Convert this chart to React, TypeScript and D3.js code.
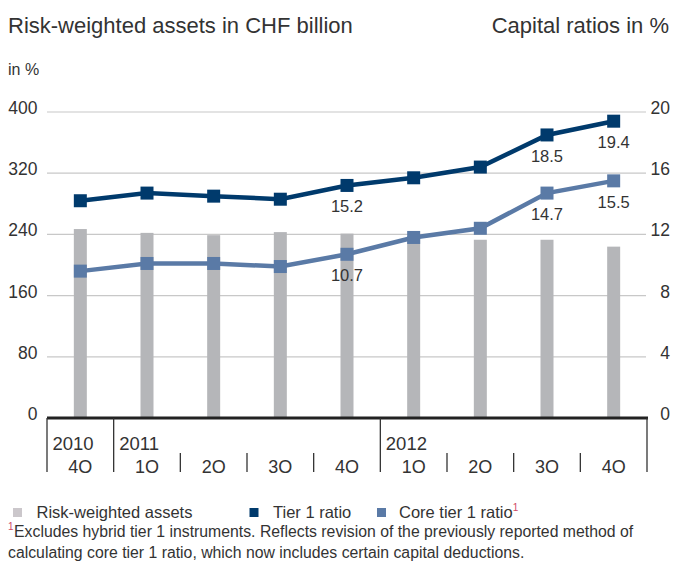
import React from 'react';
import * as d3 from 'd3';

// quarters shown on the x axis
const periods = ['4Q10', '1Q11', '2Q11', '3Q11', '4Q11', '1Q12', '2Q12', '3Q12', '4Q12'];
const quarterLabels = ['4Q', '1Q', '2Q', '3Q', '4Q', '1Q', '2Q', '3Q', '4Q'];
const years = [
  { label: '2010', first: '4Q10' },
  { label: '2011', first: '1Q11' },
  { label: '2012', first: '1Q12' },
];

// values
const rwa = [247, 242, 239, 243, 241, 238, 233, 233, 224];
const tier1 = [14.2, 14.7, 14.5, 14.3, 15.2, 15.7, 16.4, 18.5, 19.4];
const coreTier1 = [9.6, 10.1, 10.1, 9.9, 10.7, 11.8, 12.4, 14.7, 15.5];
const labelled = ['4Q11', '3Q12', '4Q12'];

const leftTicks = [0, 80, 160, 240, 320, 400];
const rightTicks = [0, 4, 8, 12, 16, 20];

const FONT = '"Liberation Sans", Arial, sans-serif';
const TEXT = '#333';
const NAVY = '#003a6c';
const STEEL = '#5a7aa6';
const BAR = '#b5b6b9';
const GRID = '#c8c8c8';
const RED = '#d04a66';

export default function App() {
  const width = 676;
  const height = 564;

  const x = d3.scaleBand<string>().domain(periods).range([47, 647]);
  const yL = d3.scaleLinear().domain([0, 400]).range([418, 112]);
  const yR = d3.scaleLinear().domain([0, 20]).range([418, 112]);
  const cx = (p: string) => (x(p) ?? 0) + x.bandwidth() / 2;

  const line = d3
    .line<number>()
    .x((_, i) => cx(periods[i]))
    .y((d) => yR(d));

  const barW = 13;
  const mk = 13;
  const axisBottom = 472;

  return (
    <svg
      width={width}
      height={height}
      style={{ position: 'absolute', left: 0, top: 0, fontFamily: FONT }}
    >
      <defs>
        <clipPath id="qclip">
          <rect x={0} y={418} width={width} height={axisBottom + 1 - 418} />
        </clipPath>
      </defs>

      {/* headings */}
      <text x={8} y={33} fontSize={22} fill={TEXT}>
        Risk-weighted assets in CHF billion
      </text>
      <text x={669} y={33} fontSize={22} fill={TEXT} textAnchor="end">
        Capital ratios in %
      </text>
      <text x={8} y={75} fontSize={16} fill={TEXT}>
        in %
      </text>

      {/* grid */}
      {leftTicks.filter((t) => t > 0).map((t) => (
        <line key={t} x1={47} x2={646} y1={yL(t)} y2={yL(t)} stroke={GRID} strokeWidth={1.2} />
      ))}
      {leftTicks.map((t) => (
        <text key={'l' + t} x={37.5} y={yL(t) + 2} fontSize={17.5} fill={TEXT} textAnchor="end">
          {t}
        </text>
      ))}
      {rightTicks.map((t) => (
        <text key={'r' + t} x={670} y={yR(t) + 2} fontSize={17.5} fill={TEXT} textAnchor="end">
          {t}
        </text>
      ))}

      {/* bars */}
      {rwa.map((v, i) => (
        <rect
          key={periods[i]}
          x={cx(periods[i]) - barW / 2}
          y={yL(v)}
          width={barW}
          height={yL(0) - yL(v)}
          fill={BAR}
        />
      ))}

      {/* lines */}
      <path d={line(coreTier1) ?? ''} fill="none" stroke={STEEL} strokeWidth={4.5} />
      {coreTier1.map((v, i) => (
        <rect key={'c' + i} x={cx(periods[i]) - mk / 2} y={yR(v) - mk / 2} width={mk} height={mk} fill={STEEL} />
      ))}
      <path d={line(tier1) ?? ''} fill="none" stroke={NAVY} strokeWidth={4.5} />
      {tier1.map((v, i) => (
        <rect key={'t' + i} x={cx(periods[i]) - mk / 2} y={yR(v) - mk / 2} width={mk} height={mk} fill={NAVY} />
      ))}

      {/* value labels */}
      {periods.map((p, i) =>
        labelled.includes(p) ? (
          <g key={'v' + p} fontSize={16.5} fill={TEXT} textAnchor="middle">
            <text x={cx(p)} y={yR(tier1[i]) + 27}>{tier1[i].toFixed(1)}</text>
            <text x={cx(p)} y={yR(coreTier1[i]) + 27}>{coreTier1[i].toFixed(1)}</text>
          </g>
        ) : null
      )}

      {/* category axis */}
      <line x1={47} x2={648} y1={418} y2={418} stroke="#222" strokeWidth={3} />
      {years.map((yr) => (
        <g key={yr.label}>
          <line x1={x(yr.first)} x2={x(yr.first)} y1={418} y2={axisBottom} stroke="#333" strokeWidth={1.3} />
          <text x={(x(yr.first) ?? 0) + 5.5} y={450} fontSize={18.5} fill={TEXT}>
            {yr.label}
          </text>
        </g>
      ))}
      <line x1={647} x2={647} y1={418} y2={axisBottom} stroke="#333" strokeWidth={1.3} />
      {periods.map((p) =>
        years.some((yr) => yr.first === p) ? null : (
          <line key={'s' + p} x1={x(p)} x2={x(p)} y1={453} y2={axisBottom} stroke="#333" strokeWidth={1.3} />
        )
      )}
      <g clipPath="url(#qclip)">
        {periods.map((p, i) => (
          <text key={'q' + p} x={cx(p)} y={473} fontSize={18} fill={TEXT} textAnchor="middle">
            {quarterLabels[i]}
          </text>
        ))}
      </g>

      {/* legend */}
      <rect x={13} y={508} width={9} height={9} fill="#cbc7cb" />
      <text x={36.5} y={518} fontSize={16.5} fill={TEXT}>Risk-weighted assets</text>
      <rect x={249.5} y={508} width={9} height={9} fill={NAVY} />
      <text x={273} y={518} fontSize={16.5} fill={TEXT}>Tier 1 ratio</text>
      <rect x={377} y={508} width={9} height={9} fill={STEEL} />
      <text x={399} y={518} fontSize={16.5} fill={TEXT}>
        Core tier 1 ratio
        <tspan fill={RED} fontSize={10} dy={-7}>1</tspan>
      </text>

      {/* footnote */}
      <text x={8} y={536.5} fontSize={15.8} fill={TEXT}>
        <tspan fill={RED} fontSize={10} dy={-7}>1</tspan>
        <tspan dx={0.5} dy={7}>
          Excludes hybrid tier 1 instruments. Reflects revision of the previously reported method of
        </tspan>
      </text>
      <text x={8} y={557.5} fontSize={15.8} fill={TEXT}>
        calculating core tier 1 ratio, which now includes certain capital deductions.
      </text>
    </svg>
  );
}
